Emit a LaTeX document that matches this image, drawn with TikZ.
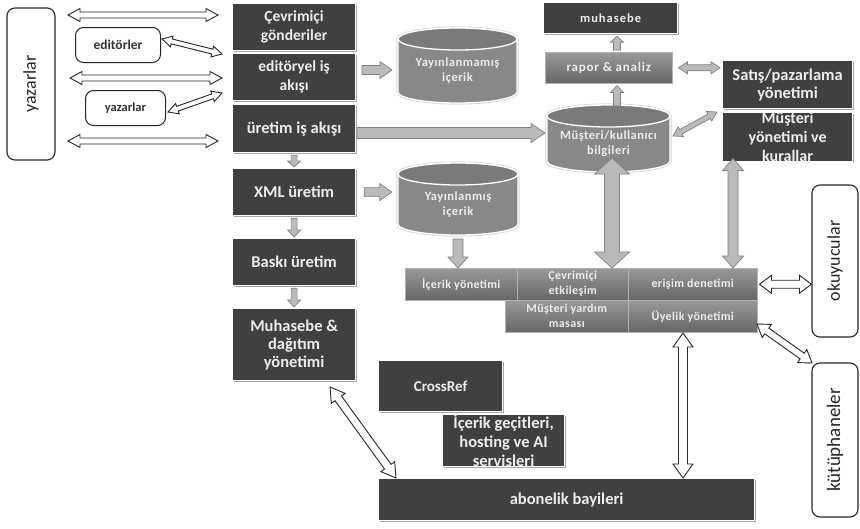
\documentclass[tikz,border=0pt]{standalone}
\usepackage{fontspec}
\setmainfont{Carlito}
\usetikzlibrary{calc,shadows}
\definecolor{dk}{HTML}{404040}
\definecolor{txt}{HTML}{EDEDED}
\definecolor{cylb}{HTML}{888888}
\definecolor{cylt}{HTML}{7A7A7A}

\tikzset{
  x=1pt, y=-1pt,
  darkbox/.style={draw=white, line width=1.2pt, fill=dk, text=txt,
    font=\bfseries\fontsize{16.5}{18}\selectfont, align=center, inner sep=0pt, anchor=north west,
    drop shadow={shadow xshift=1.2pt, shadow yshift=-1.2pt, opacity=0.35, fill=black}},
  graybox/.style={draw=black!30, line width=0.5pt, top color=black!40, bottom color=black!60, text=txt,
    font=\bfseries\fontsize{12}{15}\selectfont\addfontfeatures{LetterSpace=3}, align=center, inner sep=0pt, anchor=north west,
    drop shadow={shadow xshift=1pt, shadow yshift=-1pt, opacity=0.3, fill=black}},
  roundbox/.style={draw=black!85, line width=1pt, rounded corners=7pt, fill=white, text=black!80,
    font=\bfseries\fontsize{12.5}{14}\selectfont, align=center, inner sep=0pt, anchor=north west},
  bigactor/.style={roundbox, rotate=90, anchor=center, rounded corners=8pt, line width=1.1pt,
    font=\fontsize{18}{20}\selectfont, text=black!85},
  cylbody/.style={fill=cylb, draw=white, line width=1.3pt, preaction={draw=black!15, line width=3.2pt}},
  cyltop/.style={fill=cylt, draw=white, line width=1.3pt},
  cyltext/.style={text=txt, font=\bfseries\fontsize{12.5}{15}\selectfont\addfontfeatures{LetterSpace=4}, align=center, inner sep=0pt},
  whitearrow/.style={draw=black!85, fill=white, line width=0.9pt, line join=miter},
  grayarrow/.style={draw=black!50, fill=black!27, line width=0.7pt, line join=miter}
}

% single block arrow: style, A, B, shaft half width, head half width, head length
\newcommand\sarrow[6]{%
  \path #2 coordinate (tA) #3 coordinate (tB);
  \path ($(tB)!#6!(tA)$) coordinate (tC);
  \path[#1] ($(tA)!#4!90:(tB)$) -- ($(tC)!#4!-90:(tA)$) -- ($(tC)!#5!-90:(tA)$) -- (tB)
    -- ($(tC)!#5!90:(tA)$) -- ($(tC)!#4!90:(tA)$) -- ($(tA)!#4!-90:(tB)$) -- cycle;
}
% double block arrow
\newcommand\darrow[6]{%
  \path #2 coordinate (tA) #3 coordinate (tB);
  \path ($(tA)!#6!(tB)$) coordinate (tP) ($(tB)!#6!(tA)$) coordinate (tQ);
  \path[#1] (tA) -- ($(tP)!#5!-90:(tA)$) -- ($(tP)!#4!-90:(tA)$) -- ($(tQ)!#4!-90:(tA)$)
    -- ($(tQ)!#5!-90:(tA)$) -- (tB) -- ($(tQ)!#5!90:(tA)$) -- ($(tQ)!#4!90:(tA)$)
    -- ($(tP)!#4!90:(tA)$) -- ($(tP)!#5!90:(tA)$) -- cycle;
}
% box: style, name, x1, y1, x2, y2, text
\newcommand\bx[7]{%
  \node[#1, minimum width={(#5-#3)*1pt}, minimum height={(#6-#4)*1pt}] (#2) at (#3,#4) {#7};
}
% cylinder: name, x1, y1, x2, y2, text
\newcommand\cyl[6]{%
  \pgfmathsetmacro\cxa{#2}\pgfmathsetmacro\cxb{#4}%
  \pgfmathsetmacro\crx{(#4-#2)/2}\pgfmathsetmacro\cry{11}%
  \pgfmathsetmacro\cyt{#3+\cry}\pgfmathsetmacro\cybt{#5-\cry}\pgfmathsetmacro\cxc{(#2+#4)/2}%
  \pgfmathsetmacro\cym{(#3+#5)/2+\cry/2}%
  \path[cylbody] (\cxa,\cyt) -- (\cxa,\cybt) arc[start angle=180,end angle=360,x radius=\crx pt,y radius=\cry pt]
    -- (\cxb,\cyt) arc[start angle=0,end angle=180,x radius=\crx pt,y radius=\cry pt] -- cycle;
  \path[cyltop] (\cxc,\cyt) ellipse[x radius=\crx pt, y radius=\cry pt];
  \node[cyltext, minimum width={(#4-#2)*1pt}, minimum height={(#5-#3-2*\cry)*1pt}] (#1) at (\cxc,\cym) {#6};
  \coordinate (#1-top) at (\cxc,#3);
  \coordinate (#1-bot) at (\cxc,#5);
}

\begin{document}
\begin{tikzpicture}
\fill[white] (0,0) rectangle (860,528);
\useasboundingbox (0,0) rectangle (860,528);

% ---- left actors
\node[bigactor, minimum width=152, minimum height=48] (yaz) at (31,84) {yazarlar};
\bx{roundbox, rounded corners=8pt, font=\bfseries\fontsize{13.5}{14}\selectfont}{edt}{75}{27}{160}{62}{editörler}
\bx{roundbox, rounded corners=8pt}{yazs}{85}{90}{165}{125}{yazarlar}

% ---- main column
\bx{darkbox, font=\bfseries\fontsize{15.5}{19}\selectfont}{cev}{232}{3}{355}{50}{Çevrimiçi\\gönderiler}
\bx{darkbox, font=\bfseries\fontsize{15.5}{19}\selectfont}{edit}{232}{53}{355}{100}{editöryel iş\\akışı}
\bx{darkbox}{uret}{232}{104}{355}{152}{üretim iş akışı}
\bx{darkbox}{xml}{232}{168}{355}{215}{XML üretim}
\bx{darkbox}{baski}{232}{238}{355}{285}{Baskı üretim}
\bx{darkbox}{muhdag}{232}{308}{355}{380}{Muhasebe \&\\dağıtım\\yönetimi}

% ---- right upper boxes
\bx{darkbox, font=\bfseries\fontsize{12.5}{14}\selectfont\addfontfeatures{LetterSpace=8}}{muh}{543}{2}{677}{33}{muhasebe}
\bx{graybox, font=\bfseries\fontsize{13}{15}\selectfont\addfontfeatures{LetterSpace=6}}{rapor}{545}{52}{672}{83}{rapor \& analiz}
\bx{darkbox}{satis}{722}{60}{852}{108}{Satış/pazarlama\\yönetimi}
\bx{darkbox, font=\bfseries\fontsize{16}{19}\selectfont}{musyon}{722}{112}{852}{159}{Müşteri\\yönetimi ve\\kurallar}

% ---- cylinders
\cyl{unpub}{398}{28}{517}{103}{Yayınlanmamış\\içerik}
\cyl{pub}{398}{163}{518}{235}{Yayınlanmış\\içerik}
\cyl{mus}{547}{105}{670}{172}{Müşteri/kullanıcı\\bilgileri}

% ---- management band
\bx{graybox}{musyard}{505}{300}{628}{332}{Müşteri yardım\\masası}
\bx{graybox}{uyelik}{628}{300}{757}{332}{Üyelik yönetimi}
\bx{graybox}{icy}{405}{268}{517}{300}{İçerik yönetimi}
\bx{graybox}{cevetk}{517}{268}{628}{300}{Çevrimiçi\\etkileşim}
\bx{graybox}{erisim}{628}{268}{757}{300}{erişim denetimi}

% ---- right actors
\node[bigactor, minimum width=152, minimum height=46] (oku) at (835,261) {okuyucular};
\node[bigactor, minimum width=154, minimum height=46, font=\fontsize{19}{20}\selectfont] (kut) at (835,440) {kütüphaneler};

% ---- bottom
\bx{darkbox, font=\bfseries\fontsize{15}{18}\selectfont}{cross}{378}{360}{502}{411}{CrossRef}
\bx{darkbox, font=\bfseries\fontsize{16.5}{19}\selectfont}{icgec}{442}{414}{564}{466}{İçerik geçitleri,\\hosting ve AI\\servisleri}
\bx{darkbox}{abon}{378}{478}{754}{520}{abonelik bayileri}

% ---- connector end points
\coordinate (l1a) at (68,15);  \coordinate (l1b) at (218,15);
\coordinate (l2a) at (70,78);  \coordinate (l2b) at (222,78);
\coordinate (l3a) at (68,141); \coordinate (l3b) at (218,141);
\coordinate (e1a) at (162,39); \coordinate (e1b) at (222,54);
\coordinate (y1a) at (168,112); \coordinate (y1b) at (222,93);
\coordinate (k1a) at (757,324); \coordinate (k1b) at (812,363);
\coordinate (m1a) at (330,387); \coordinate (m1b) at (396,478);
\coordinate (v1a) at (683,333); \coordinate (v1b) at (683,478);
\coordinate (ea) at (362,70); \coordinate (eb) at (392,70);
\coordinate (ua) at (357,133); \coordinate (ub) at (545,133);
\coordinate (da) at (673,136); \coordinate (db) at (717,112);

% ---- white arrows
\darrow{whitearrow}{(l1a)}{(l1b)}{3pt}{6.5pt}{12pt}
\darrow{whitearrow}{(l2a)}{(l2b)}{3pt}{6.5pt}{12pt}
\darrow{whitearrow}{(l3a)}{(l3b)}{3pt}{6.5pt}{12pt}
\darrow{whitearrow}{(e1a)}{(e1b)}{2.5pt}{5.5pt}{10pt}
\darrow{whitearrow}{(y1a)}{(y1b)}{2.5pt}{5.5pt}{10pt}
\darrow{whitearrow}{([xshift=2pt]erisim.east)}{(oku.north |- erisim.east)}{4pt}{9pt}{12pt}
\darrow{whitearrow}{(k1a)}{(k1b)}{3.5pt}{8pt}{12pt}
\darrow{whitearrow}{(m1a)}{(m1b)}{4pt}{8.5pt}{14pt}
\darrow{whitearrow}{(v1a)}{(v1b)}{4.5pt}{10pt}{14pt}

% ---- gray arrows
\sarrow{grayarrow}{([yshift=-2pt]uret.south)}{([yshift=1pt]xml.north)}{3pt}{6.5pt}{6pt}
\sarrow{grayarrow}{([yshift=-2pt]xml.south)}{([yshift=1pt]baski.north)}{3pt}{6.5pt}{7pt}
\sarrow{grayarrow}{([yshift=-2pt]baski.south)}{([yshift=1pt]muhdag.north)}{3pt}{6.5pt}{7pt}
\sarrow{grayarrow}{(ea)}{(eb)}{4.5pt}{8.5pt}{12pt}
\sarrow{grayarrow}{([xshift=8pt]xml.east)}{([xshift=-6pt]pub.west |- xml.east)}{4.5pt}{8.5pt}{12pt}
\sarrow{grayarrow}{(ua)}{(ub)}{5.5pt}{9.5pt}{14pt}
\sarrow{grayarrow}{([yshift=-4pt]pub-bot)}{(icy.north -| pub-bot)}{5pt}{10pt}{11pt}
\sarrow{grayarrow}{([yshift=-1pt]mus-top -| 617,0)}{([yshift=-2pt]rapor.south -| 617,0)}{3.5pt}{6.5pt}{7pt}
\sarrow{grayarrow}{([yshift=2pt]rapor.north -| 617,0)}{([yshift=-2pt]muh.south -| 617,0)}{3.5pt}{6.5pt}{6pt}
\darrow{grayarrow}{([xshift=6pt]rapor.east)}{([xshift=-2pt]satis.west |- rapor.east)}{3pt}{6pt}{9pt}
\darrow{grayarrow}{(da)}{(db)}{2.5pt}{5.5pt}{9pt}
\darrow{grayarrow}{([yshift=14pt]mus-bot -| 612,0)}{(cevetk.north -| 612,0)}{7.5pt}{17.5pt}{16pt}
\darrow{grayarrow}{([yshift=4pt]musyon.south -| 733,0)}{(erisim.north -| 733,0)}{5pt}{10.5pt}{12pt}
\end{tikzpicture}
\end{document}
